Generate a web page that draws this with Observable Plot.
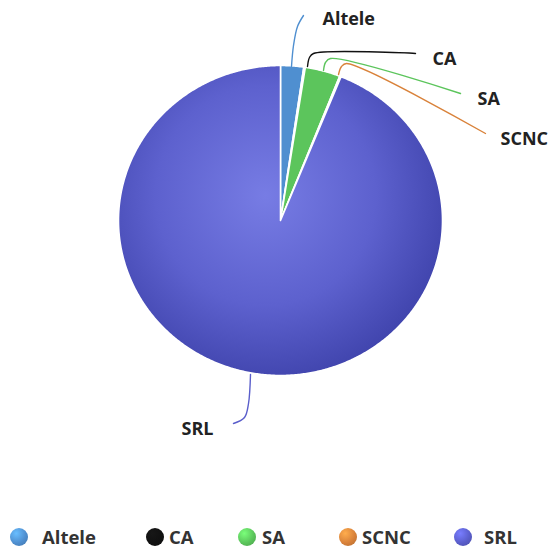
<!DOCTYPE html>
<html>
<head>
<meta charset="utf-8">
<script src="https://cdn.jsdelivr.net/npm/d3@7"></script>
<script src="https://cdn.jsdelivr.net/npm/@observablehq/plot@0.6"></script>
<style>
  html, body { margin: 0; padding: 0; background: #fff; }
  #wrap { width: 554px; position: relative; font-family: "Open Sans", "DejaVu Sans", sans-serif; }
  #legend { position: relative; width: 554px; height: 39px; }
  .sw { position: absolute; top: 18px; width: 18px; height: 18px; border-radius: 50%; }
  .lb { position: absolute; top: 14px; font-weight: 700; font-size: 18.5px; color: #333; line-height: 26px; }
</style>
</head>
<body>
<div id="wrap"><div id="chart"></div><div id="legend"></div></div>
<script>
// ---- data ----
const categories = ["Altele", "CA", "SA", "SCNC", "SRL"];
const shares = [2.3, 0.15, 3.5, 0.15, 93.9];
const colors = ["#4f8fd0", "#111111", "#5cc55c", "#d9823a", "#5a5ecb"];

// ---- layout (pixels) ----
const W = 554, H = 510;
const CX = 280, CY = 220, RX = 162, RY = 155;
const leaderPx = {
  Altele: [[291, 66], [293, 45], [297, 26], [303, 15]],
  CA:     [[307, 66], [309, 57], [313, 53], [415, 53]],
  SA:     [[323, 70], [325, 62], [330, 58], [460, 93]],
  SCNC:   [[338, 74], [341, 66], [346, 63], [485, 133]],
  SRL:    [[250, 374], [248, 403], [244, 417], [233, 423]]
};
const labelPx = {
  Altele: [322, 19], CA: [432, 59], SA: [477, 99], SCNC: [500, 139], SRL: [181, 429]
};
const toU = ([px, py]) => [(px - CX) / RX, (CY - py) / RY];

// slice polygons from the values
const total = d3.sum(shares);
let acc = 0;
const slicePts = [];
categories.forEach((c, i) => {
  const a0 = acc / total * 2 * Math.PI;
  acc += shares[i];
  const a1 = acc / total * 2 * Math.PI;
  const n = Math.max(2, Math.ceil((a1 - a0) / (Math.PI / 360)));
  slicePts.push({key: c, x: 0, y: 0});
  for (let k = 0; k <= n; k++) {
    const a = a0 + (a1 - a0) * k / n;
    slicePts.push({key: c, x: Math.sin(a), y: Math.cos(a)});
  }
  slicePts.push({key: c, x: 0, y: 0});
});

const leaders = [];
for (const c of categories) leaderPx[c].forEach(p => { const [x, y] = toU(p); leaders.push({key: c, x, y}); });
const labels = categories.map(c => { const [x, y] = toU(labelPx[c]); return {key: c, x, y}; });

const fillFor = c => c === "SRL" ? "url(#srlGrad)" : colors[categories.indexOf(c)];

const marks = categories.map(c =>
  Plot.line(slicePts.filter(d => d.key === c), {x: "x", y: "y", fill: fillFor(c), stroke: "white", strokeWidth: 1.6, strokeLinejoin: "round", curve: "linear"})
);
categories.forEach((c, i) => {
  marks.push(Plot.line(leaders.filter(d => d.key === c), {x: "x", y: "y", stroke: c === "SRL" ? "#5a5ecb" : colors[i], strokeWidth: 1.4, curve: "catmull-rom"}));
});
marks.push(Plot.text(labels, {x: "x", y: "y", text: "key", textAnchor: "start", fill: "#222", fontSize: 18, fontWeight: 700}));

const plot = Plot.plot({
  width: W, height: H,
  marginTop: 0, marginRight: 0, marginBottom: 0, marginLeft: 0,
  x: {domain: [-1, 1], range: [CX - RX, CX + RX], axis: null},
  y: {domain: [-1, 1], range: [CY + RY, CY - RY], axis: null},
  style: {fontFamily: "'Open Sans', 'DejaVu Sans', sans-serif", background: "white", overflow: "visible"},
  marks
});

const ns = "http://www.w3.org/2000/svg";
const defs = document.createElementNS(ns, "defs");
defs.innerHTML = `<radialGradient id="srlGrad" gradientUnits="userSpaceOnUse" cx="265" cy="195" r="200">
  <stop offset="0" stop-color="#777ce4"/>
  <stop offset="0.55" stop-color="#5d61ce"/>
  <stop offset="1" stop-color="#3c40a8"/>
</radialGradient>`;
plot.insertBefore(defs, plot.firstChild);
document.getElementById("chart").appendChild(plot);

// legend
const legendLeft = [10, 146, 238, 339, 454];
const legendText = [42, 169, 262, 362, 484];
const lg = document.getElementById("legend");
categories.forEach((c, i) => {
  const s = document.createElement("div");
  s.className = "sw";
  s.style.left = legendLeft[i] + "px";
  const col = colors[i];
  s.style.background = `radial-gradient(circle at 35% 30%, ${d3.color(col).brighter(0.8)}, ${col} 55%, ${d3.color(col).darker(0.6)})`;
  lg.appendChild(s);
  const t = document.createElement("div");
  t.className = "lb";
  t.style.left = legendText[i] + "px";
  t.textContent = c;
  lg.appendChild(t);
});
</script>
</body>
</html>
